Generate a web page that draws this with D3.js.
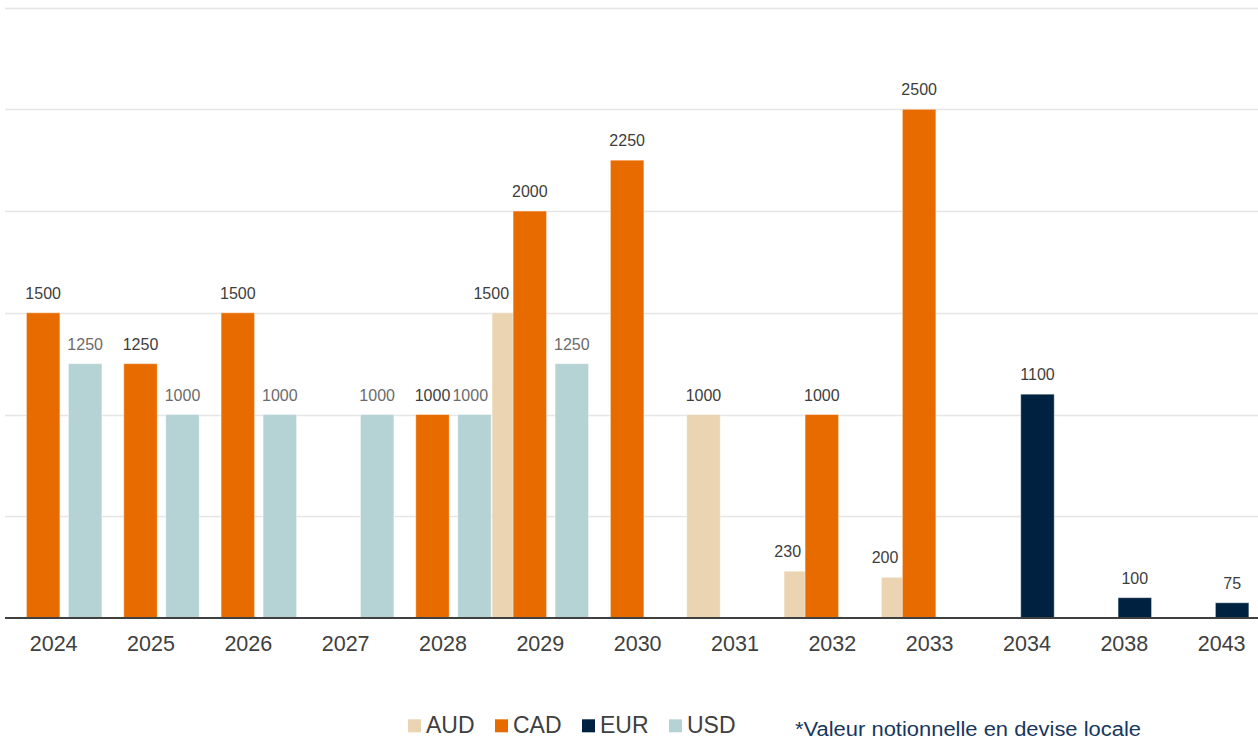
<!DOCTYPE html>
<html>
<head>
<meta charset="utf-8">
<script src="https://cdn.jsdelivr.net/npm/d3@7"></script>
<style>
  html, body { margin: 0; padding: 0; background: #fff; }
  svg { display: block; font-family: "Liberation Sans", Arial, sans-serif; }
</style>
</head>
<body>
<svg id="chart" width="1258" height="742"></svg>
<script>
// ---- Data ----
const years = ["2024","2025","2026","2027","2028","2029","2030","2031","2032","2033","2034","2038","2043"];
const seriesNames = ["AUD","CAD","EUR","USD"];
const AUD = [null, null, null, null, null, 1500, null, 1000, 230, 200, null, null, null];
const CAD = [1500, 1250, 1500, null, 1000, 2000, 2250, null, 1000, 2500, null, null, null];
const EUR = [null, null, null, null, null, null, null, null, null, null, 1100, 100, 75];
const USD = [1250, 1000, 1000, 1000, 1000, 1250, null, null, null, null, null, null, null];
const yTicks = [0, 500, 1000, 1500, 2000, 2500, 3000];
const footnote = "*Valeur notionnelle en devise locale";

const seriesValues = { AUD, CAD, EUR, USD };
const colors = { AUD: "#ead4b1", CAD: "#e86b00", EUR: "#002241", USD: "#b5d3d5" };
const labelColors = { AUD: "#3d3d3d", CAD: "#3d3d3d", EUR: "#3d3d3d", USD: "#6b6b6b" };

// ---- Layout ----
const svg = d3.select("#chart");
const W = 1258;
const x = d3.scaleBand().domain(years).range([5, 1270.3]).padding(0);
const sub = d3.scaleBand().domain(seriesNames).range([-42, 42]).padding(0);
const barW = 33.5;
const y = d3.scaleLinear().domain([0, 2500]).range([618, 109.3]);

// gridlines
svg.append("g").selectAll("line").data(yTicks.filter(d => d > 0)).join("line")
  .attr("x1", 5).attr("x2", W)
  .attr("y1", d => Math.round(y(d)) + 0.5).attr("y2", d => Math.round(y(d)) + 0.5)
  .attr("stroke", "#e6e6e6").attr("stroke-width", 1.3);

// bars
const points = [];
seriesNames.forEach(s => {
  seriesValues[s].forEach((v, i) => {
    if (v == null) return;
    points.push({ s, year: years[i], v,
      cx: x(years[i]) + x.bandwidth() / 2 + sub(s) + sub.bandwidth() / 2 });
  });
});
points.forEach(p => { p.x0 = p.cx - barW / 2; p.x1 = p.cx + barW / 2; p.top = y(p.v); });

const barsG = svg.append("g");
seriesNames.forEach(s => {
  barsG.append("g").selectAll("rect").data(points.filter(p => p.s === s)).join("rect")
    .attr("x", p => p.x0).attr("width", barW)
    .attr("y", p => p.top).attr("height", p => y(0) - p.top)
    .attr("fill", colors[s])
    .attr("stroke", "rgba(255,255,255,0.45)").attr("stroke-width", 1);
});

// axis baseline
const xAxis = d3.axisBottom(x).tickSize(0).tickPadding(0);
const axisG = svg.append("g").attr("transform", "translate(0,618)").call(xAxis);
axisG.select(".domain").attr("stroke", "#404040").attr("stroke-width", 2)
  .attr("d", `M5,0H${W}`);
axisG.selectAll(".tick text")
  .attr("y", 32.5).attr("dy", null)
  .attr("font-size", 21.5).attr("fill", "#404040")
  .attr("font-family", "'Liberation Sans', Arial, sans-serif");

// data labels with simple overlap avoidance
const fs = 16;
const labels = points.map(p => {
  const txt = String(p.v);
  const w = txt.length * 0.556 * fs;
  return { p, txt, cx: p.cx, base: p.top - 14, w, h: 0.72 * fs };
});
// process right-to-left so pushed labels can push others
labels.sort((a, b) => b.cx - a.cx);
labels.forEach(l => {
  for (let iter = 0; iter < 3; iter++) {
    let moved = false;
    const left = l.cx - l.w / 2, right = l.cx + l.w / 2;
    const top = l.base - l.h, bot = l.base;
    points.forEach(q => {
      if (q === l.p) return;
      if (right > q.x0 && left < q.x1 && bot > q.top) {
        l.cx = q.x0 - 4 - l.w / 2; moved = true;
      }
    });
    if (!moved) break;
  }
});
svg.append("g").selectAll("text").data(labels).join("text")
  .attr("x", l => l.cx).attr("y", l => l.base)
  .attr("text-anchor", "middle")
  .attr("font-size", fs)
  .attr("fill", l => labelColors[l.p.s])
  .text(l => l.txt);

// legend
const legend = svg.append("g");
seriesNames.forEach((s, i) => {
  const gx = 408 + i * 87;
  legend.append("rect").attr("x", gx).attr("y", 719.3).attr("width", 13).attr("height", 13)
    .attr("fill", colors[s]);
  legend.append("text").attr("x", gx + 18).attr("y", 732.7)
    .attr("font-size", 23).attr("fill", "#404040").text(s);
});
svg.append("text").attr("x", 795).attr("y", 736)
  .attr("font-size", 20).attr("fill", "#17375e")
  .attr("textLength", 346).attr("lengthAdjust", "spacingAndGlyphs")
  .text(footnote);
</script>
</body>
</html>
